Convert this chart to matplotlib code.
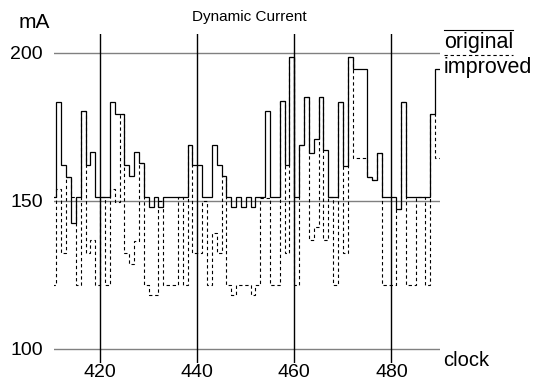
import numpy as np
import matplotlib
matplotlib.use("Agg")
import matplotlib.pyplot as plt
from matplotlib.lines import Line2D

plt.rcParams['font.family'] = ['Liberation Sans', 'DejaVu Sans']

# ---- data ----
clock_start = 410
original = [151.4, 183.5, 162, 158, 142.4, 151.4, 180.4, 162, 166.4, 151.4,
            151.4, 151.4, 183.5, 179.4, 179.4, 162, 158.3, 166.4, 162.8, 151.4,
            148, 151.4, 148, 151.4, 151.4, 151.4, 151.4, 151.4, 168.7, 162,
            162, 151.4, 151.4, 168.7, 162, 158.2, 151.4, 148, 151.4, 148,
            151.4, 148, 151.4, 151.4, 180.3, 151.4, 151.4, 183.6, 162, 198.4,
            151.4, 168.7, 184.9, 166.2, 170.8, 184.9, 167, 151.4, 151.4, 183.4,
            161.8, 198.7, 194.4, 194.4, 194.4, 157.9, 157, 166.2, 151.4, 151.4,
            151.4, 147.1, 183.4, 151.4, 151.4, 151.4, 151.4, 151.4, 179.3, 194.4]
improved = [121.4, 153.8, 132.4, 158, 151.4, 121.4, 180.4, 132.3, 136.7, 121.4,
            151.4, 121.4, 153.8, 149.7, 179.4, 132.4, 128.6, 136.4, 162.8, 121.4,
            118.1, 118.1, 150, 121.4, 121.4, 121.4, 151.4, 121.4, 168.7, 132.3,
            132.3, 150, 121.4, 139, 132.3, 158.2, 121.4, 118.1, 121.4, 121.4,
            121.4, 118.1, 121.4, 151, 151, 121.4, 121.4, 183.6, 132.4, 198.4,
            121.4, 168.7, 184.9, 136.7, 141, 184.9, 136.7, 151.4, 121.4, 183.4,
            132.2, 198.7, 164.3, 164.3, 164.3, 157.9, 157, 166.2, 121.4, 121.4,
            121.4, 147.1, 183.4, 121.4, 121.4, 151.4, 151.4, 121.4, 179.3, 164.3]
x_ticks = [420, 440, 460, 480]
y_ticks = [100, 150, 200]
series_labels = ["original", "improved"]

edges = np.arange(clock_start, clock_start + len(original) + 1)

W, H = 547, 380
fig = plt.figure(figsize=(W / 100, H / 100), dpi=100)
ax = fig.add_axes([54 / W, 1 - 363 / H, (440 - 54) / W, (363 - 34) / H])
ax.set_xlim(410.5, 490)
ax.set_ylim(95.2, 206.3)

for s in ax.spines.values():
    s.set_visible(False)

# grid lines
for yv in y_ticks:
    ax.axhline(yv, color='#808080', lw=1.0, zorder=1)
for xv in x_ticks:
    ax.axvline(xv, color='black', lw=1.0, zorder=1)

ax.stairs(improved, edges, baseline=None, color='black', lw=0.8,
          linestyle=(0, (3, 2.5)), zorder=2)
ax.stairs(original, edges, baseline=None, color='black', lw=0.9, zorder=3)

ax.set_xticks(x_ticks)
ax.set_yticks(y_ticks)
ax.tick_params(length=0, labelsize=14)
ax.tick_params(axis='y', pad=8)
ax.tick_params(axis='x', pad=1)

fig.text(249 / W, 1 - 10 / H, "Dynamic Current", ha='center', va='top', fontsize=11)
fig.text(34 / W, 1 - 23 / H, "mA", ha='center', va='center', fontsize=15)
fig.text(443 / W, 1 - 360 / H, "clock", ha='left', va='center', fontsize=14.5)

# legend
fig.add_artist(Line2D([444 / W, 513 / W], [1 - 30 / H, 1 - 30 / H], color='black', lw=0.8,
                      transform=fig.transFigure))
fig.text(444 / W, 1 - 42.5 / H, series_labels[0], ha='left', va='center', fontsize=15.5)
fig.add_artist(Line2D([444 / W, 513 / W], [1 - 55 / H, 1 - 55 / H], color='black', lw=0.8,
                      linestyle=(0, (3, 2.5)), transform=fig.transFigure))
fig.text(444 / W, 1 - 68 / H, series_labels[1], ha='left', va='center', fontsize=15.5)

fig.savefig("out.png", dpi=100)
